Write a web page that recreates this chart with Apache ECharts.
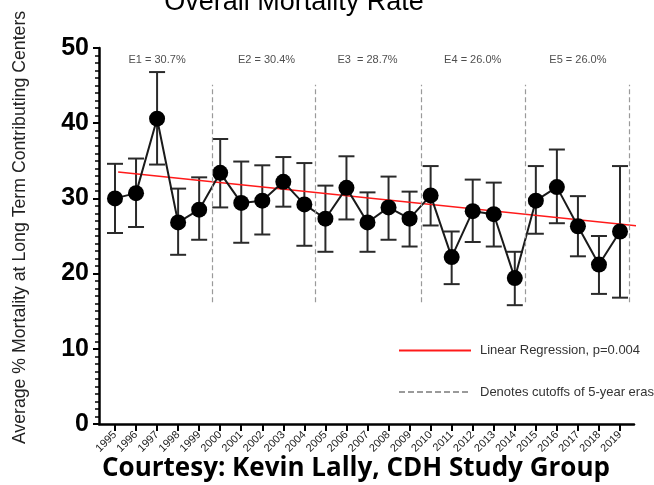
<!DOCTYPE html>
<html><head><meta charset="utf-8">
<script src="https://cdn.jsdelivr.net/npm/echarts@6/dist/echarts.min.js"></script>
<style>html,body{margin:0;padding:0;background:#fff}#c{width:654px;height:485px}</style>
</head><body><div id="c"></div>
<script>
const years = [1995,1996,1997,1998,1999,2000,2001,2002,2003,2004,2005,2006,2007,2008,2009,2010,2011,2012,2013,2014,2015,2016,2017,2018,2019];
const mortality = [30.0,30.7,40.6,26.8,28.5,33.4,29.4,29.7,32.2,29.2,27.3,31.4,26.8,28.8,27.3,30.4,22.2,28.3,27.9,19.4,29.7,31.5,26.3,21.2,25.6];
const upper = [34.6,35.3,46.8,31.3,32.8,37.9,34.9,34.4,35.5,34.7,31.7,35.6,30.8,32.9,30.9,34.3,25.6,32.5,32.1,22.9,34.3,36.5,30.3,25.0,34.3];
const lower = [25.4,26.2,34.5,22.5,24.5,28.8,24.1,25.2,28.9,23.7,22.9,27.2,22.9,24.5,23.6,26.4,18.6,24.2,23.6,15.8,25.3,26.7,22.3,17.3,16.8];
const regressionYears = [1995.15, 2019.95];
const regressionValues = [33.5, 26.3];
const eraCutoffs = [1999.6, 2004.5, 2009.55, 2014.5, 2019.45];
const eraCutoffRange = [16.2, 45.1];
const eraLabels = ['E1 = 30.7%','E2 = 30.4%','E3  = 28.7%','E4 = 26.0%','E5 = 26.0%'];
const eraLabelYears = [1997, 2002.2, 2007, 2012, 2017];
const regressionName = 'Linear Regression, p=0.004';
const cutoffName = 'Denotes cutoffs of 5-year eras';
const titleText = 'Overall Mortality Rate';
const yAxisTitle = 'Average % Mortality at Long Term Contributing Centers';
const footerText = 'Courtesy: Kevin Lally, CDH Study Group';

const F = 'Liberation Sans, Arial, sans-serif';
const chart = echarts.init(document.getElementById('c'));
chart.setOption({
  animation: false,
  backgroundColor: '#fff',
  grid: { left: 99, right: 20, top: 48, bottom: 61 },
  legend: {
    data: [regressionName, cutoffName],
    orient: 'vertical', left: 398, top: 344, padding: 0,
    itemWidth: 72, itemHeight: 14, itemGap: 28.5,
    selectedMode: false,
    itemStyle: { opacity: 0 },
    textStyle: { fontFamily: F, fontSize: 13, color: '#333', padding: [0, 0, 0, 4] }
  },
  xAxis: {
    type: 'value', min: 1994.24, max: 2019.665,
    axisLine: { show: true, lineStyle: { color: '#000', width: 2.5 } },
    axisTick: { show: true, length: 7, lineStyle: { color: '#000', width: 2 }, customValues: years },
    axisLabel: { customValues: years, rotate: 45, fontSize: 11, fontFamily: F, color: '#222', margin: 9,
      formatter: v => String(Math.round(v)) },
    splitLine: { show: false }
  },
  yAxis: {
    type: 'value', min: 0, max: 50, interval: 10,
    axisLine: { show: true, lineStyle: { color: '#000', width: 2.5 } },
    axisTick: { show: true, length: 6, lineStyle: { color: '#000', width: 2 } },
    minorTick: { show: true, splitNumber: 10, length: 4, lineStyle: { color: '#000', width: 1.5 } },
    axisLabel: { fontSize: 25, fontWeight: 'bold', fontFamily: F, color: '#000', margin: 10 },
    splitLine: { show: false }, minorSplitLine: { show: false }
  },
  graphic: [
    { type: 'text', x: 294, y: -11, style: { text: titleText, font: '27px ' + F, fill: '#000', align: 'center', verticalAlign: 'top' } },
    { type: 'text', x: 20, y: 227.5, rotation: Math.PI / 2, style: { text: yAxisTitle, font: '17.7px ' + F, fill: '#222', align: 'center', verticalAlign: 'middle' } },
    { type: 'text', x: 102, y: 456, style: { text: footerText, font: 'bold 26px "Open Sans", sans-serif', fill: '#000', align: 'left', verticalAlign: 'top' } }
  ],
  series: [
    {
      name: cutoffName, type: 'line', data: [], symbol: 'none', z: 1,
      lineStyle: { color: '#9a9a9a', type: [6, 3], width: 1.5 },
      markLine: {
        silent: true, symbol: ['none', 'none'], label: { show: false },
        lineStyle: { color: '#9a9a9a', type: [5, 3], width: 1.2 },
        data: eraCutoffs.map(x => [{ coord: [x, eraCutoffRange[0]] }, { coord: [x, eraCutoffRange[1]] }])
      }
    },
    {
      name: 'errors', type: 'custom', z: 2,
      data: years.map((y, i) => [y, lower[i], upper[i]]),
      renderItem: (params, api) => {
        const lo = api.coord([api.value(0), api.value(1)]);
        const hi = api.coord([api.value(0), api.value(2)]);
        const w = 8;
        const st = { stroke: '#2a2a2a', lineWidth: 2 };
        return { type: 'group', children: [
          { type: 'line', shape: { x1: lo[0], y1: lo[1], x2: hi[0], y2: hi[1] }, style: st },
          { type: 'line', shape: { x1: lo[0] - w, y1: lo[1], x2: lo[0] + w, y2: lo[1] }, style: st },
          { type: 'line', shape: { x1: hi[0] - w, y1: hi[1], x2: hi[0] + w, y2: hi[1] }, style: st }
        ]};
      }
    },
    {
      name: regressionName, type: 'line', z: 3, clip: false, symbol: 'none',
      data: regressionYears.map((x, i) => [x, regressionValues[i]]),
      lineStyle: { color: '#ff1a1a', width: 1.5 }, itemStyle: { color: '#ff1a1a' }
    },
    {
      name: 'mortality', type: 'line', z: 4,
      data: years.map((y, i) => [y, mortality[i]]),
      symbol: 'circle', symbolSize: 16,
      itemStyle: { color: '#000' }, lineStyle: { color: '#1a1a1a', width: 2 }
    },
    {
      name: 'eras', type: 'scatter', z: 5, symbolSize: 0,
      data: eraLabelYears.map((x, i) => ({ value: [x, 48.4], name: eraLabels[i] })),
      label: { show: true, position: 'inside', formatter: '{b}', fontSize: 11, fontFamily: F, color: '#222' }
    }
  ]
});
</script></body></html>
